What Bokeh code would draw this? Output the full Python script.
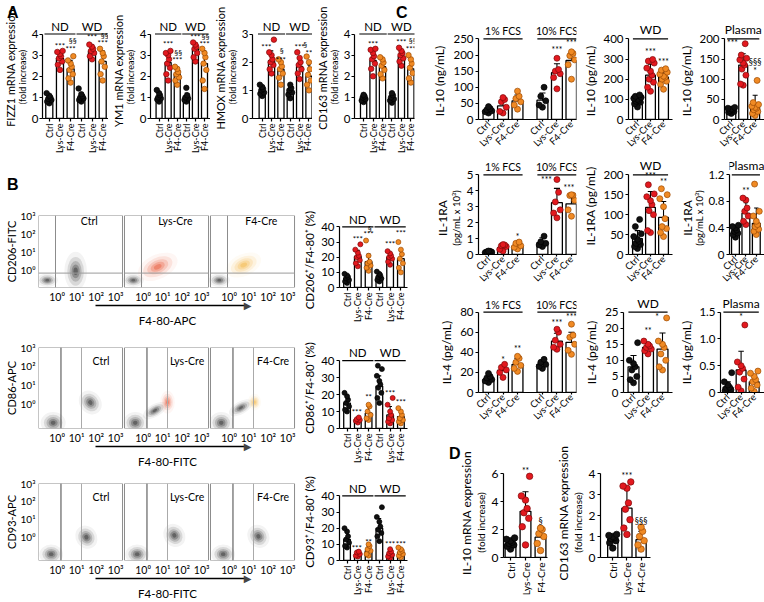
import math
from bokeh.plotting import figure
from bokeh.models import Range1d, FixedTicker, LinearAxis, Div
from bokeh.layouts import row, column
from bokeh.embed import file_html
from bokeh.resources import INLINE
from bokeh.core.properties import value

FONT = "Lato"

# ---------------- categories / labels ----------------
GROUPS = ["Ctrl", "Lys-Cre", "F4-Cre"]
GROUP_FILL = ["#111111", "#e3191f", "#f08a24"]
GROUP_EDGE = ["#000000", "#7d0a0a", "#9c4a05"]
DIET_HEADERS = ["ND", "WD"]
FCS_HEADERS = ["1% FCS", "10% FCS"]
LOG_TICKS = ["10\u2070", "10\u00b9", "10\u00b2", "10\u00b3"]

# ---------------- Panel A : mRNA (fold increase), ND x3 then WD x3 ----------------
FIZZ1_MEAN = [0.92, 2.85, 2.35, 1.0, 3.2, 2.7]
FIZZ1_SD = [0.2, 0.35, 0.4, 0.2, 0.28, 0.5]
FIZZ1_PTS = [[0.72, 0.8, 0.88, 0.93, 1.0, 1.08, 1.2],
             [2.3, 2.55, 2.7, 2.85, 2.95, 3.05, 3.15, 3.2],
             [1.7, 1.9, 2.1, 2.3, 2.45, 2.6, 2.75, 2.95],
             [0.8, 0.88, 0.95, 1.0, 1.05, 1.15, 1.42],
             [2.8, 2.95, 3.1, 3.2, 3.3, 3.4, 3.5],
             [1.8, 2.1, 2.45, 2.7, 2.95, 3.1, 3.3]]
FIZZ1_STARS = [(2, 3.45, "***"), (3, 3.27, "***"), (3.2, 3.65, "§§"),
               (5, 3.88, "***"), (6, 3.57, "***"), (6.2, 3.9, "§§")]

YM1_MEAN = [1.0, 2.65, 2.1, 1.0, 3.3, 2.6]
YM1_SD = [0.15, 0.45, 0.3, 0.2, 0.25, 0.6]
YM1_PTS = [[0.8, 0.9, 0.95, 1.0, 1.1, 1.2, 1.35],
           [1.8, 2.1, 2.4, 2.6, 2.8, 3.0, 3.1, 3.2],
           [1.6, 1.8, 1.95, 2.1, 2.2, 2.35, 2.45],
           [0.8, 0.88, 0.95, 1.0, 1.1, 1.45],
           [2.7, 2.9, 3.1, 3.3, 3.4, 3.5, 3.6],
           [1.4, 1.8, 2.3, 2.6, 2.9, 3.1, 3.3]]
YM1_STARS = [(2, 3.55, "***"), (3.1, 3.1, "§§"), (3, 2.75, "***"),
             (5, 3.85, "***"), (6.1, 3.88, "§§"), (6, 3.55, "***")]

HMOX_MEAN = [0.95, 2.05, 1.75, 0.95, 1.85, 1.5]
HMOX_SD = [0.12, 0.35, 0.25, 0.15, 0.3, 0.4]
HMOX_PTS = [[0.8, 0.88, 0.92, 1.0, 1.05, 1.12, 1.2],
            [1.6, 1.75, 1.9, 2.0, 2.1, 2.25, 2.35, 2.8],
            [1.2, 1.45, 1.6, 1.75, 1.85, 2.0, 2.1],
            [0.72, 0.85, 0.92, 1.0, 1.08, 1.2],
            [1.4, 1.6, 1.75, 1.9, 2.0, 2.15, 2.35],
            [1.0, 1.2, 1.35, 1.55, 1.75, 2.0, 2.2]]
HMOX_STARS = [(1.45, 2.55, "***"), (3.1, 2.38, "§"), (3, 2.08, "***"),
              (5, 2.55, "***"), (5.6, 2.6, "§"), (6, 2.32, "**")]

CD163_MEAN = [0.95, 2.75, 2.45, 0.95, 2.95, 2.35]
CD163_SD = [0.12, 0.4, 0.35, 0.15, 0.3, 0.45]
CD163_PTS = [[0.78, 0.85, 0.92, 1.0, 1.05, 1.12],
             [2.0, 2.35, 2.6, 2.8, 2.95, 3.1, 3.25, 3.3],
             [1.9, 2.1, 2.3, 2.5, 2.65, 2.8, 2.9],
             [0.75, 0.85, 0.92, 1.0, 1.1, 1.2],
             [2.5, 2.7, 2.85, 3.0, 3.1, 3.2, 3.35],
             [1.7, 1.9, 2.15, 2.4, 2.6, 2.8, 3.0]]
CD163_STARS = [(2, 3.55, "***"), (5, 3.6, "***"), (6, 3.3, "***"), (6.2, 3.65, "§§")]

# ---------------- Panel B : % of F4-80+ cells ----------------
CD206_MEAN = [6, 20.5, 17, 7, 20, 19]
CD206_SD = [2, 4, 5, 2, 3, 6]
CD206_PTS = [[3, 4, 5, 6, 7, 8, 9],
             [14, 16, 18, 20, 21, 23, 25, 28.5],
             [11, 13, 14.5, 16, 17, 21, 31],
             [4, 5, 6, 7, 8, 9, 10.5],
             [15, 17, 19, 20, 21, 22.5, 24],
             [10, 13, 16, 19, 22, 25, 30]]
CD206_STARS = [(2, 32, "***"), (3, 35, "***"), (3.1, 38.5, "§"), (5, 28.5, "***"), (6, 36, "***")]

CD86_MEAN = [15, 5, 9, 25, 8, 7]
CD86_SD = [4, 1.5, 4, 6, 5, 3]
CD86_PTS = [[10, 11, 13, 15, 17, 19, 21],
            [3.5, 4.5, 5, 5.5, 6.5],
            [5, 6, 8, 10, 13, 14],
            [15, 18, 21, 24, 26, 28, 31, 35, 37],
            [3, 4, 5, 6, 8, 10, 14, 18],
            [3, 4, 5, 6, 8, 10, 12]]
CD86_STARS = [(1.9, 9.5, "***"), (3, 18.5, "**"), (5, 21, "***"), (6, 15.5, "***")]

CD93_MEAN = [13, 4, 6, 20, 4, 5]
CD93_SD = [5, 1.5, 2.5, 6, 2, 2]
CD93_PTS = [[8, 9, 11, 13, 15, 18, 20],
            [2.5, 3, 4, 5, 5.5],
            [3, 4, 6, 7, 9, 10],
            [12, 15, 17, 19, 21, 24, 27, 33],
            [1.5, 2.5, 3.5, 4.5, 5.5, 7],
            [2, 3, 4, 5, 6, 7, 8]]
CD93_STARS = [(1.9, 8, "***"), (3, 11.5, "**"), (5, 10.5, "***"), (6, 10.5, "***")]

# flow clusters (panel index, log10 x, log10 y, width, height, angle deg, colour key)
FLOW1_PANEL = [0, 0, 1, 1, 2, 2]
FLOW1_X = [-0.5, 0.95, -0.5, 0.75, -0.5, 0.75]
FLOW1_Y = [-0.6, -0.1, -0.6, 0.15, -0.6, 0.25]
FLOW1_W = [0.8, 0.85, 0.8, 1.6, 0.8, 1.4]
FLOW1_H = [0.55, 1.6, 0.55, 1.0, 0.55, 0.9]
FLOW1_ANG = [0, 0, 0, 25, 0, 25]
FLOW1_COL = ["k", "k", "k", "r", "k", "y"]

FLOW2_PANEL = [0, 0, 1, 1, 1, 2, 2, 2]
FLOW2_X = [-0.2, 1.7, -0.4, 0.6, 1.25, -0.4, 0.6, 1.3]
FLOW2_Y = [-1.0, 0.08, -1.0, -0.35, 0.1, -1.0, -0.2, 0.1]
FLOW2_W = [0.95, 0.8, 0.9, 1.0, 0.55, 0.9, 1.0, 0.5]
FLOW2_H = [0.85, 1.0, 0.85, 0.5, 0.9, 0.85, 0.5, 0.65]
FLOW2_ANG = [0, 40, 0, 30, 0, 0, 30, 0]
FLOW2_COL = ["k", "k", "k", "k", "r", "k", "k", "y"]

FLOW3_PANEL = [0, 0, 1, 1, 2, 2]
FLOW3_X = [-0.3, 1.5, -0.3, 1.6, -0.3, 1.5]
FLOW3_Y = [-0.95, 0.0, -0.95, 0.1, -0.95, 0.05]
FLOW3_W = [0.9, 0.8, 0.9, 0.8, 0.9, 0.8]
FLOW3_H = [0.8, 1.0, 0.8, 1.0, 0.8, 1.0]
FLOW3_ANG = [0, 35, 0, 35, 0, 35]
FLOW3_COL = ["k", "k", "k", "k", "k", "k"]

# ---------------- Panel C : cytokines ----------------
FCS_X = [1, 2, 3, 4.72, 5.72, 6.72]
IL10_FCS_MEAN = [28, 42, 58, 60, 145, 183]
IL10_FCS_SD = [8, 20, 18, 22, 28, 22]
IL10_FCS_PTS = [[20, 24, 27, 30, 34, 40], [20, 25, 38, 55, 62, 68], [32, 45, 55, 65, 72, 88],
                [38, 45, 58, 72, 100], [95, 130, 142, 150, 155, 190], [125, 170, 185, 198, 205, 210]]
IL10_FCS_STARS = [(5.72, 215, "***"), (6.72, 236, "***")]

IL10_WD_MEAN = [95, 220, 210]
IL10_WD_SD = [18, 55, 35]
IL10_WD_PTS = [[62, 78, 85, 90, 95, 100, 105, 110, 115, 122],
               [140, 160, 185, 200, 220, 240, 255, 280, 290, 298],
               [150, 175, 190, 200, 210, 215, 225, 235, 245, 252]]
IL10_WD_STARS = [(2, 333, "***"), (3, 285, "***")]

IL10_PL_MEAN = [22, 135, 30]
IL10_PL_SD = [5, 28, 30]
IL10_PL_PTS = [[15, 18, 20, 22, 24, 26, 28, 30],
               [85, 88, 110, 125, 135, 140, 148, 152, 160, 188],
               [10, 15, 20, 24, 28, 30, 33, 37, 42, 97]]
IL10_PL_STARS = [(1.1, 190, "***"), (3, 143, "§§§"), (3, 121, "*")]

IL1RA_FCS_MEAN = [0.15, 0.42, 0.52, 0.75, 3.25, 3.18]
IL1RA_FCS_SD = [0.05, 0.2, 0.15, 0.3, 0.9, 0.6]
IL1RA_FCS_PTS = [[0.1, 0.12, 0.15, 0.17, 0.2, 0.22], [0.22, 0.32, 0.5, 0.55, 0.6, 0.62],
                 [0.35, 0.45, 0.55, 0.7, 0.78], [0.5, 0.6, 0.7, 0.8, 1.15],
                 [2.3, 2.6, 2.8, 3.3, 3.9, 4.7], [2.4, 2.8, 3.4, 3.7, 3.72, 3.75]]
IL1RA_FCS_STARS = [(3, 1.1, "*"), (5.0, 4.7, "***"), (6.55, 4.2, "***")]

IL1RA_WD_MEAN = [40, 118, 93]
IL1RA_WD_SD = [20, 40, 40]
IL1RA_WD_PTS = [[15, 20, 25, 28, 33, 38, 45, 52, 70, 88],
                [55, 60, 100, 110, 125, 135, 145, 152, 175],
                [45, 55, 65, 70, 90, 120, 140, 150, 165]]
IL1RA_WD_STARS = [(2, 198, "***"), (3, 183, "**")]

IL1RA_PL_MEAN = [0.35, 0.62, 0.47]
IL1RA_PL_SD = [0.07, 0.16, 0.23]
IL1RA_PL_PTS = [[0.26, 0.3, 0.32, 0.35, 0.37, 0.4, 0.42, 0.44],
                [0.45, 0.5, 0.58, 0.65, 0.7, 0.82, 0.85],
                [0.3, 0.35, 0.38, 0.42, 0.45, 0.5, 0.58, 0.65, 1.06]]
IL1RA_PL_STARS = [(2, 0.95, "**")]

IL4_FCS_MEAN = [13, 22, 28, 28, 51, 50]
IL4_FCS_SD = [3, 5, 6, 4, 8, 10]
IL4_FCS_PTS = [[10, 11.5, 13, 14.5, 16, 19], [15, 20, 22.5, 25, 28], [21, 24, 27, 30, 34, 36],
               [24, 26, 28, 30, 33], [43, 45, 48, 52, 60, 63], [38, 42, 48, 55, 57, 68]]
IL4_FCS_STARS = [(2, 32, "*"), (3, 43, "**"), (5.72, 69, "***"), (6.72, 75, "***")]

IL4_WD_MEAN = [8, 14, 13.5]
IL4_WD_SD = [3.5, 1.5, 5]
IL4_WD_PTS = [[3, 4, 5, 7, 8, 9, 10, 15.5], [12, 13, 13.5, 14, 14.5, 15, 16],
              [7, 8, 10, 12, 14, 15, 16, 23.2]]
IL4_WD_STARS = [(2, 19, "**"), (2.62, 23.6, "*")]

IL4_PL_MEAN = [0.1, 0.42, 0.2]
IL4_PL_SD = [0.1, 0.35, 0.12]
IL4_PL_PTS = [[0.0, 0.03, 0.05, 0.08, 0.1, 0.14, 0.2, 0.37],
              [0.03, 0.1, 0.25, 0.38, 0.45, 0.5, 0.57, 1.26],
              [0.02, 0.08, 0.14, 0.2, 0.24, 0.3, 0.36, 0.4]]
IL4_PL_STARS = [(2, 1.41, "*")]

# ---------------- Panel D ----------------
IL10_MRNA_MEAN = [1.0, 3.3, 1.45]
IL10_MRNA_SD = [0.3, 1.4, 0.6]
IL10_MRNA_PTS = [[0.6, 0.8, 0.9, 1.0, 1.1, 1.2, 1.3, 1.4],
                 [0.9, 2.2, 2.8, 3.2, 3.5, 4.1, 4.4, 5.8],
                 [0.5, 1.0, 1.5, 1.7, 2.0, 2.1]]
IL10_MRNA_STARS = [(2, 6.2, "**"), (3, 2.64, "§")]

CD163D_MEAN = [0.88, 2.35, 0.85]
CD163D_SD = [0.2, 0.95, 0.4]
CD163D_PTS = [[0.45, 0.7, 0.8, 0.9, 0.95, 1.0, 1.05, 1.1],
              [1.1, 1.4, 1.8, 2.3, 2.6, 3.3, 3.4, 3.6],
              [0.4, 0.6, 0.8, 1.0, 1.25, 1.45]]
CD163D_STARS = [(2, 3.9, "***"), (3, 1.76, "§§§")]

JIT = [0.0, -0.3, 0.3, -0.15, 0.15, 0.0, -0.38, 0.38, -0.22, 0.22, 0.07, -0.07]
CCOL = {"k": "#1c1c1c", "r": "#e8502f", "y": "#f3b43c"}
PAD = "\u2002"   # en space used to nudge rotated axis titles along the axis


def padded(text, fs, shift, room):
    """Append en spaces so the visible title moves `shift` px down the axis,
    without letting the (padded) text run past the figure edge."""
    est = 0.58 * fs * len(text)
    n = int(round(2 * shift / (0.5 * fs)))
    n_max = int((2 * room - est) // (0.5 * fs))
    return text + PAD * max(0, min(n, n_max))


def base_fig(W, H, bl, br, bt, bb, xr, yr):
    p = figure(width=W, height=H, x_range=Range1d(*xr), y_range=Range1d(*yr),
               output_backend="svg", toolbar_location=None,
               min_border_left=bl, min_border_right=br,
               min_border_top=bt, min_border_bottom=bb)
    p.outline_line_color = None
    p.xgrid.visible = False
    p.ygrid.visible = False
    p.background_fill_color = "white"
    p.border_fill_color = "white"
    return p


def style_axis(ax, fs, lw=1.2, tick=3, standoff=2):
    ax.axis_line_width = lw
    ax.axis_line_color = "black"
    ax.major_tick_line_width = lw
    ax.major_tick_out = tick
    ax.major_tick_in = 0
    ax.minor_tick_line_color = None
    ax.minor_tick_out = 0
    ax.major_label_text_font = FONT
    ax.major_label_text_font_size = f"{fs}px"
    ax.major_label_text_color = "black"
    ax.major_label_standoff = standoff


def set_axis_label(ax, text, fs, standoff):
    ax.axis_label = text
    ax.axis_label_text_font = FONT
    ax.axis_label_text_font_size = f"{fs}px"
    ax.axis_label_text_font_style = "normal"
    ax.axis_label_text_color = "black"
    ax.axis_label_standoff = standoff


def label_axis(bounds, text, fs, standoff):
    ax = LinearAxis(bounds=bounds, ticker=FixedTicker(ticks=[]))
    ax.axis_line_color = None
    ax.major_tick_line_color = None
    ax.major_tick_out = 0
    ax.major_tick_in = 0
    ax.minor_tick_out = 0
    ax.minor_tick_line_color = None
    ax.major_label_standoff = 0
    set_axis_label(ax, text, fs, standoff)
    return ax


def bar_chart(ox, oy, W, H, axis_x, right_x, top_y, zero_y, tick_y, tick_val,
              bar0_x, step, xs, means, sds, pts, yticks, ylabels, headers, stars,
              titles, tick_fs=11, xl_fs=9, orient=math.pi / 2, hdr_fs=11.5,
              star_fs=8, bar_w=0.66, pt_size=5, hdr_pad=0.45, hdr_dx=None,
              xl_tick=3, xl_standoff=2, y_standoff=2, title_shift=0, bar_lw=1.3):
    bl = axis_x - ox
    br = ox + W - right_x
    bt = top_y - oy
    bb = oy + H - zero_y
    unit = (zero_y - tick_y) / tick_val
    x0 = xs[0] - (bar0_x - axis_x) / step
    x1 = x0 + (right_x - axis_x) / step
    y1 = (zero_y - top_y) / unit
    p = base_fig(W, H, bl, br, bt, bb, (x0, x1), (0, y1))

    def dy(py):
        return (zero_y - py) / unit

    gidx = [i % 3 for i in range(len(xs))]
    p.vbar(x=xs, top=means, width=bar_w, bottom=0, fill_color="white",
           line_color="black", line_width=bar_lw)
    tops = [m + s for m, s in zip(means, sds)]
    p.segment(x0=xs, y0=means, x1=xs, y1=tops, line_color="black", line_width=1.1)
    cap = bar_w * 0.28
    p.segment(x0=[x - cap for x in xs], y0=tops, x1=[x + cap for x in xs], y1=tops,
              line_color="black", line_width=1.1)
    for x, vals, g in zip(xs, pts, gidx):
        jx = [x + JIT[j % len(JIT)] * bar_w for j in range(len(vals))]
        p.scatter(x=jx, y=vals, size=pt_size, marker="circle", fill_color=GROUP_FILL[g],
                  line_color=GROUP_EDGE[g], line_width=0.7)
    for n, (text, i0, i1) in enumerate(headers):
        xa, xb = xs[i0] - hdr_pad, xs[i1] + hdr_pad
        p.segment(x0=[xa], y0=[tick_val], x1=[xb], y1=[tick_val],
                  line_color="black", line_width=1.2)
        cx = (xa + xb) / 2 + (hdr_dx[n] if hdr_dx else 0)
        p.text(x=[cx], y=[dy(tick_y - 1.5)], text=[text],
               text_font=value(FONT), text_font_size=f"{hdr_fs}px", text_align="center",
               text_baseline="bottom", text_color="black")
    if stars:
        p.text(x=[s[0] for s in stars], y=[s[1] for s in stars], text=[s[2] for s in stars],
               text_font=value(FONT), text_font_size=f"{star_fs}px", text_align="center",
               text_baseline="middle", text_color="black")

    # axis titles are centred on the frame; nudge them towards the axis centre
    shift = (tick_y - top_y) / 2 + title_shift
    centre = (top_y + zero_y) / 2
    room = min(centre - oy, oy + H - centre) - 3
    ya = p.yaxis[0]
    ya.ticker = FixedTicker(ticks=yticks)
    ya.major_label_overrides = {t: l for t, l in zip(yticks, ylabels)}
    ya.bounds = (0, tick_val)
    style_axis(ya, tick_fs, standoff=y_standoff)
    t_main = titles[-1]
    set_axis_label(ya, padded(t_main[0], t_main[1], shift, room), t_main[1], t_main[2])
    if len(titles) > 1:
        t1 = titles[0]
        p.add_layout(label_axis((0, tick_val), padded(t1[0], t1[1], shift, room),
                                t1[1], t1[2]), "left")
    xa_ = p.xaxis[0]
    xa_.ticker = FixedTicker(ticks=list(xs))
    xa_.major_label_overrides = {x: GROUPS[i % 3] for i, x in enumerate(xs)}
    xa_.major_label_orientation = orient
    style_axis(xa_, xl_fs, tick=xl_tick, standoff=xl_standoff)
    return p


FLOW_L, FLOW_R = 38, 296
PW, PIN, V0 = 4.4, 4.3, 0.95
FW = 3 * PW


def flow_chart(ox, oy, W, H, top_y, bottom_y, ylo, panel, cx, cy, cw, ch, cang, ccol,
               gates_v, gate_h, name_v, name_dy, ytitle, xtitle):
    bl = FLOW_L - ox
    br = ox + W - FLOW_R
    bt = top_y - oy
    bb = oy + H - bottom_y
    p = base_fig(W, H, bl, br, bt, bb, (0, FW), (ylo, 3))
    sx = (FLOW_R - FLOW_L) / FW
    sy = (bottom_y - top_y) / (3 - ylo)

    def dx(px):
        return (px - FLOW_L) / sx

    def dy(py):
        return 3 - (py - top_y) / sy

    lefts = [k * PW for k in range(3)]
    for k, x, y, w, h, a, c in zip(panel, cx, cy, cw, ch, cang, ccol):
        for sc, al in zip([1.35, 1.0, 0.72, 0.48, 0.26], [0.05, 0.12, 0.18, 0.26, 0.38]):
            p.ellipse(x=[k * PW + V0 + x], y=[y], width=[w * sc], height=[h * sc],
                      angle=[math.radians(a)], fill_color=CCOL[c], fill_alpha=al,
                      line_color=None)
    p.quad(left=lefts, right=[l + PIN for l in lefts], bottom=[ylo] * 3, top=[3] * 3,
           fill_color=None, line_color="#8c8c8c", line_width=1)
    for gv, gc in gates_v:
        xs_ = [l + V0 + gv for l in lefts]
        p.segment(x0=xs_, y0=[ylo] * 3, x1=xs_, y1=[3] * 3, line_color=gc, line_width=1)
    if gate_h is not None:
        p.segment(x0=lefts, y0=[gate_h] * 3, x1=[l + PIN for l in lefts], y1=[gate_h] * 3,
                  line_color="#9a9a9a", line_width=1)
    p.text(x=[l + V0 + name_v for l in lefts], y=[dy(top_y + name_dy)] * 3, text=GROUPS,
           text_font=value(FONT), text_font_size="10.5px", text_align="center",
           text_baseline="middle", text_color="black")
    ya = p.yaxis[0]
    ya.ticker = FixedTicker(ticks=[0, 1, 2, 3])
    ya.major_label_overrides = {i: LOG_TICKS[i] for i in range(4)}
    style_axis(ya, 10, tick=0, standoff=3)
    ya.axis_line_color = None
    ya.major_tick_line_color = None
    set_axis_label(ya, ytitle, 11, 0)
    xticks = [l + V0 + v for l in lefts for v in range(4)]
    xa_ = p.xaxis[0]
    xa_.ticker = FixedTicker(ticks=xticks)
    xa_.major_label_overrides = {t: LOG_TICKS[i % 4] for i, t in enumerate(xticks)}
    style_axis(xa_, 10.5, tick=0, standoff=3)
    xa_.axis_line_color = None
    xa_.major_tick_line_color = None
    # arrow axis: shaft is the axis line, head is a tick label, title below
    head = dx(247)
    arr = LinearAxis(bounds=(dx(95), dx(246)), ticker=FixedTicker(ticks=[head]))
    arr.major_label_overrides = {head: "\u25b6"}
    arr.axis_line_width = 1.6
    arr.axis_line_color = "black"
    arr.major_tick_line_color = None
    arr.major_tick_out = 0
    arr.major_tick_in = 0
    arr.minor_tick_out = 0
    arr.minor_tick_line_color = None
    arr.major_label_text_font = "DejaVu Sans"
    arr.major_label_text_font_size = "10px"
    arr.major_label_standoff = -6
    set_axis_label(arr, xtitle, 11.5, 0)
    p.add_layout(arr, "below")
    return p


SIX = [1, 2, 3, 4, 5, 6]
THREE = [1, 2, 3]
DIET_HDR = [(DIET_HEADERS[0], 0, 2), (DIET_HEADERS[1], 3, 5)]
FCS_HDR = [(FCS_HEADERS[0], 0, 2), (FCS_HEADERS[1], 3, 5)]
A_TICKS4 = [0, 1, 2, 3, 4]
A_TICKS3 = [0, 1, 2, 3]

# ---------------- Panel A ----------------
a_common = dict(oy=0, H=155, top_y=17, zero_y=121, tick_y=34, headers=DIET_HDR, y_standoff=1,
                title_shift=0, tick_fs=11.5, pt_size=5.5)


def a_titles(name):
    return [(name + " mRNA expression", 11, -3), ("(fold increase)", 9, 1)]


A1 = bar_chart(ox=0, W=108, axis_x=40, right_x=108, tick_val=4, bar0_x=47, step=11,
               xs=SIX, means=FIZZ1_MEAN, sds=FIZZ1_SD, pts=FIZZ1_PTS,
               yticks=A_TICKS4, ylabels=[str(t) for t in A_TICKS4], stars=FIZZ1_STARS,
               titles=a_titles("FIZZ1"), **a_common)
A2 = bar_chart(ox=108, W=102, axis_x=140, right_x=210, tick_val=4, bar0_x=150, step=10.6,
               xs=SIX, means=YM1_MEAN, sds=YM1_SD, pts=YM1_PTS,
               yticks=A_TICKS4, ylabels=[str(t) for t in A_TICKS4], stars=YM1_STARS,
               titles=a_titles("YM1"), **a_common)
A3 = bar_chart(ox=210, W=102, axis_x=244, right_x=312, tick_val=3, bar0_x=255, step=10.6,
               xs=SIX, means=HMOX_MEAN, sds=HMOX_SD, pts=HMOX_PTS,
               yticks=A_TICKS3, ylabels=[str(t) for t in A_TICKS3], stars=HMOX_STARS,
               titles=a_titles("HMOX"), **a_common)
A4 = bar_chart(ox=312, W=104, axis_x=348, right_x=414, tick_val=4, bar0_x=358, step=10.4,
               xs=SIX, means=CD163_MEAN, sds=CD163_SD, pts=CD163_PTS,
               yticks=A_TICKS4, ylabels=[str(t) for t in A_TICKS4], stars=CD163_STARS,
               titles=a_titles("CD163"), **a_common)

# ---------------- Panel B ----------------
B_TICKS = [0, 10, 20, 30, 40]
b_common = dict(ox=300, W=116, axis_x=335, right_x=407, tick_val=40, bar0_x=343, step=11.4,
                xs=SIX, yticks=B_TICKS, ylabels=[str(t) for t in B_TICKS], headers=DIET_HDR,
                tick_fs=11.5, hdr_fs=11.5, bar_w=0.62, xl_fs=9, title_shift=0)

F1 = flow_chart(0, 155, 300, 180, 215, 295, -1.0, FLOW1_PANEL, FLOW1_X, FLOW1_Y,
                FLOW1_W, FLOW1_H, FLOW1_ANG, FLOW1_COL,
                [(-0.08, "#8c8c8c")], -0.2, 1.65, 6, "CD206-FITC", "F4-80-APC")
B1 = bar_chart(oy=155, H=180, top_y=186, zero_y=287, tick_y=202,
               means=CD206_MEAN, sds=CD206_SD, pts=CD206_PTS, stars=CD206_STARS,
               titles=[("CD206\u207a/F4-80\u207a (%)", 11.5, 2)], **b_common)

F2 = flow_chart(0, 335, 300, 135, 347, 436, -1.3, FLOW2_PANEL, FLOW2_X, FLOW2_Y,
                FLOW2_W, FLOW2_H, FLOW2_ANG, FLOW2_COL,
                [(0.2, "#444444"), (1.25, "#aaaaaa")], None, 2.25, 15, "CD86-APC", "F4-80-FITC")
B2 = bar_chart(oy=335, H=135, top_y=338, zero_y=437, tick_y=354,
               means=CD86_MEAN, sds=CD86_SD, pts=CD86_PTS, stars=CD86_STARS,
               titles=[("CD86\u207a/F4-80\u207a (%)", 11.5, 2)], **b_common)

F3 = flow_chart(0, 470, 300, 132, 483, 562, -1.3, FLOW3_PANEL, FLOW3_X, FLOW3_Y,
                FLOW3_W, FLOW3_H, FLOW3_ANG, FLOW3_COL,
                [(0.2, "#444444"), (1.25, "#aaaaaa")], None, 2.25, 14, "CD93-APC", "F4-80-FITC")
B3 = bar_chart(oy=470, H=132, top_y=470, zero_y=563, tick_y=485,
               means=CD93_MEAN, sds=CD93_SD, pts=CD93_PTS, stars=CD93_STARS,
               titles=[("CD93\u207a/F4-80\u207a (%)", 11.5, 2)], **b_common)

# ---------------- Panel C ----------------
c_common = dict(tick_fs=11.5, xl_fs=9.5, orient=math.pi / 4, star_fs=8.5, bar_w=0.75,
                pt_size=6, xl_tick=2, xl_standoff=1, hdr_pad=0.35, title_shift=2)
c1 = dict(ox=416, W=164, axis_x=478, right_x=576, bar0_x=488, step=14.5, xs=FCS_X, hdr_fs=10.5)
c2 = dict(ox=580, W=96, axis_x=623, right_x=672, bar0_x=633, step=14.5, xs=THREE, hdr_fs=12)
c3 = dict(ox=676, W=88, axis_x=717, right_x=764, bar0_x=725, step=14, xs=THREE, hdr_fs=12)
r1 = dict(oy=0, H=155, top_y=24, zero_y=123, tick_y=39)
r2 = dict(oy=155, H=135, top_y=157, zero_y=258, tick_y=175)
r3 = dict(oy=290, H=138, top_y=294, zero_y=394, tick_y=312)

C11 = bar_chart(tick_val=250, means=IL10_FCS_MEAN, sds=IL10_FCS_SD, pts=IL10_FCS_PTS,
                yticks=[0, 50, 100, 150, 200, 250], ylabels=["0", "50", "100", "150", "200", "250"],
                headers=FCS_HDR, stars=IL10_FCS_STARS, titles=[("IL-10 (ng/mL)", 12, 3)],
                **c1, **r1, **c_common)
C12 = bar_chart(tick_val=400, means=IL10_WD_MEAN, sds=IL10_WD_SD, pts=IL10_WD_PTS,
                yticks=[0, 100, 200, 300, 400], ylabels=["0", "100", "200", "300", "400"],
                headers=[("WD", 0, 2)], stars=IL10_WD_STARS, titles=[("IL-10 (pg/mL)", 12, 2)],
                **c2, **r1, **c_common)
C13 = bar_chart(tick_val=200, means=IL10_PL_MEAN, sds=IL10_PL_SD, pts=IL10_PL_PTS,
                yticks=[0, 50, 100, 150, 200], ylabels=["0", "50", "100", "150", "200"],
                headers=[("Plasma", 0, 2)], stars=IL10_PL_STARS, titles=[("IL-10 (pg/mL)", 12, 2)],
                **c3, **r1, **c_common)

C21 = bar_chart(tick_val=5, means=IL1RA_FCS_MEAN, sds=IL1RA_FCS_SD, pts=IL1RA_FCS_PTS,
                yticks=[0, 1, 2, 3, 4, 5], ylabels=["0", "1", "2", "3", "4", "5"],
                headers=FCS_HDR, stars=IL1RA_FCS_STARS,
                titles=[("IL-1RA", 12, -2), ("(pg/mL x 10\u00b3)", 9.5, 2)],
                **c1, **r2, **c_common)
C22 = bar_chart(tick_val=200, means=IL1RA_WD_MEAN, sds=IL1RA_WD_SD, pts=IL1RA_WD_PTS,
                yticks=[0, 50, 100, 150, 200], ylabels=["0", "50", "100", "150", "200"],
                headers=[("WD", 0, 2)], stars=IL1RA_WD_STARS, titles=[("IL-1RA (pg/mL)", 12, 2)],
                **c2, **r2, **c_common)
C23 = bar_chart(tick_val=1.2, means=IL1RA_PL_MEAN, sds=IL1RA_PL_SD, pts=IL1RA_PL_PTS,
                yticks=[0, 0.4, 0.8, 1.2], ylabels=["0", "0.4", "0.8", "1.2"],
                headers=[("Plasma", 0, 2)], stars=IL1RA_PL_STARS,
                titles=[("IL-1RA", 12, -3), ("(pg/mL x 10\u00b3)", 9.5, 0)],
                **c3, **r2, **c_common)

C31 = bar_chart(tick_val=80, means=IL4_FCS_MEAN, sds=IL4_FCS_SD, pts=IL4_FCS_PTS,
                yticks=[0, 20, 40, 60, 80], ylabels=["0", "20", "40", "60", "80"],
                headers=FCS_HDR, stars=IL4_FCS_STARS, titles=[("IL-4 (pg/mL)", 12, 3)],
                **c1, **r3, **c_common)
C32 = bar_chart(tick_val=25, means=IL4_WD_MEAN, sds=IL4_WD_SD, pts=IL4_WD_PTS,
                yticks=[0, 5, 10, 15, 20, 25], ylabels=["0", "5", "10", "15", "20", "25"],
                headers=[("WD", 0, 2)], stars=IL4_WD_STARS, titles=[("IL-4 (pg/mL)", 12, 3)],
                **c2, **r3, **c_common)
C33 = bar_chart(tick_val=1.5, means=IL4_PL_MEAN, sds=IL4_PL_SD, pts=IL4_PL_PTS,
                yticks=[0, 0.5, 1.0, 1.5], ylabels=["0", "0.5", "1.0", "1.5"],
                headers=[("Plasma", 0, 2)], stars=IL4_PL_STARS, titles=[("IL-4 (pg/mL)", 12, 2)],
                **c3, **r3, **c_common)

# ---------------- Panel D ----------------
d_common = dict(oy=428, H=174, top_y=462, zero_y=557, tick_y=473, xs=THREE, step=15,
                headers=[], tick_fs=12, xl_fs=10, star_fs=8.5, bar_w=0.72, pt_size=6.5,
                title_shift=6)
D1 = bar_chart(ox=416, W=136, axis_x=503, right_x=547, bar0_x=510, tick_val=6,
               means=IL10_MRNA_MEAN, sds=IL10_MRNA_SD, pts=IL10_MRNA_PTS,
               yticks=[0, 2, 4, 6], ylabels=["0", "2", "4", "6"], stars=IL10_MRNA_STARS,
               titles=[("IL-10 mRNA expression", 12, -2), ("(fold increase)", 10, 2)],
               **d_common)
D2 = bar_chart(ox=552, W=212, axis_x=597, right_x=650, bar0_x=610, tick_val=4,
               means=CD163D_MEAN, sds=CD163D_SD, pts=CD163D_PTS,
               yticks=[0, 1, 2, 3, 4], ylabels=["0", "1", "2", "3", "4"], stars=CD163D_STARS,
               titles=[("CD163 mRNA expression", 12, -2), ("(fold increase)", 10, 2)],
               **d_common)


# ---------------- panel letters ----------------
def letter(t, left, top):
    return Div(text=t, width=16, height=18,
               styles={"position": "absolute", "left": f"{left}px", "top": f"{top}px",
                       "z-index": "10", "font-family": "Liberation Sans, Arial, sans-serif",
                       "font-size": "16px", "font-weight": "bold", "line-height": "16px",
                       "color": "black"})


left = column(row(A1, A2, A3, A4), row(F1, B1), row(F2, B2), row(F3, B3))
right = column(row(C11, C12, C13), row(C21, C22, C23), row(C31, C32, C33), row(D1, D2))
root = row(letter("A", 2, 0), letter("B", 2, 172), letter("C", 391, 0),
           letter("D", 444, 441), left, right)

open("out.html", "w").write(file_html(root, INLINE, title="Macrophage polarization"))
